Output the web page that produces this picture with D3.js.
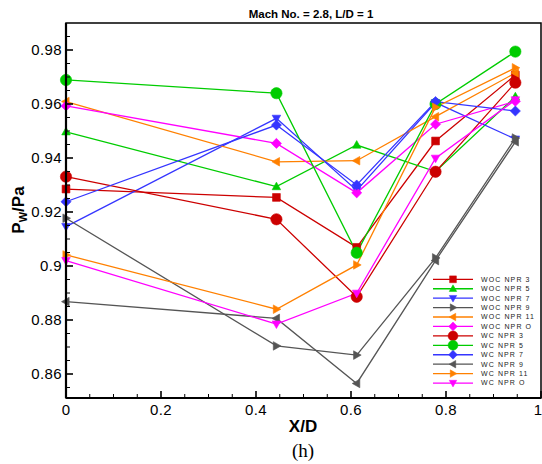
<!DOCTYPE html>
<html><head><meta charset="utf-8">
<script src="https://cdn.jsdelivr.net/npm/d3@7/dist/d3.min.js"></script>
<style>body{margin:0;background:#fff}svg{display:block}</style>
</head><body>
<svg id="c" width="542" height="464"></svg>
<script>
const xPos = [0, 0.443, 0.612, 0.778, 0.946];
const seriesNames = ["WOC NPR 3","WOC NPR 5","WOC NPR 7","WOC NPR 9","WOC NPR 11","WOC NPR O",
                     "WC NPR 3","WC NPR 5","WC NPR 7","WC NPR 9","WC NPR 11","WC NPR O"];
const WOC_NPR_3  = [0.9285, 0.9254, 0.9069, 0.9463, 0.9707];
const WOC_NPR_5  = [0.9497, 0.9294, 0.9448, 0.9350, 0.9627];
const WOC_NPR_7  = [0.9146, 0.9547, 0.9280, 0.9605, 0.9470];
const WOC_NPR_9  = [0.9177, 0.8704, 0.8670, 0.9030, 0.9474];
const WOC_NPR_11 = [0.9609, 0.9386, 0.9390, 0.9553, 0.9715];
const WOC_NPR_O  = [0.9593, 0.9454, 0.9271, 0.9525, 0.9610];
const WC_NPR_3   = [0.9331, 0.9173, 0.8886, 0.9349, 0.9679];
const WC_NPR_5   = [0.9689, 0.9640, 0.9049, 0.9600, 0.9794];
const WC_NPR_7   = [0.9238, 0.9522, 0.9300, 0.9609, 0.9574];
const WC_NPR_9   = [0.8868, 0.8806, 0.8565, 0.9020, 0.9460];
const WC_NPR_11  = [0.9041, 0.8840, 0.9004, 0.9588, 0.9734];
const WC_NPR_O   = [0.9020, 0.8785, 0.8899, 0.9399, 0.9615];
const seriesValues = [WOC_NPR_3, WOC_NPR_5, WOC_NPR_7, WOC_NPR_9, WOC_NPR_11, WOC_NPR_O,
                      WC_NPR_3, WC_NPR_5, WC_NPR_7, WC_NPR_9, WC_NPR_11, WC_NPR_O];
const xTickLabels = ["0","0.2","0.4","0.6","0.8","1"];
const yTickLabels = ["0.86","0.88","0.9","0.92","0.94","0.96","0.98"];

const colors = ["#cc0000","#00cc00","#3535ff","#555555","#ff8000","#ff00ff",
                "#cc0000","#00cc00","#3535ff","#555555","#ff8000","#ff00ff"];
const shapes = ["square","up","down","right","left","diamond",
                "circle","circle","diamond","left","right","down"];

const L = 66, R = 541, T = 23, B = 398;
const x = d3.scaleLinear().domain([0, 1]).range([L, R]);
const y = d3.scaleLinear().domain([0.86, 0.98]).range([374, 50]);

const svg = d3.select("#c");
const font = "'Liberation Sans', Arial, sans-serif";

function markerPath(shape, s) {
  switch (shape) {
    case "square": return `M${-s},${-s}H${s}V${s}H${-s}Z`;
    case "up": return `M0,${-s*1.15}L${s*1.1},${s*0.8}L${-s*1.1},${s*0.8}Z`;
    case "down": return `M0,${s*1.15}L${s*1.1},${-s*0.8}L${-s*1.1},${-s*0.8}Z`;
    case "right": return `M${s*1.15},0L${-s*0.8},${s*1.1}L${-s*0.8},${-s*1.1}Z`;
    case "left": return `M${-s*1.15},0L${s*0.8},${s*1.1}L${s*0.8},${-s*1.1}Z`;
    case "diamond": return `M0,${-s*1.3}L${s*1.3},0L0,${s*1.3}L${-s*1.3},0Z`;
    case "circle": return d3.symbol(d3.symbolCircle, Math.PI*(s*1.45)*(s*1.45))();
  }
}

// series lines + markers
const line = d3.line().x(d => x(d[0])).y(d => y(d[1]));
seriesValues.forEach((vals, i) => {
  const pts = vals.map((v, j) => [xPos[j], v]);
  svg.append("path").attr("d", line(pts)).attr("fill", "none")
    .attr("stroke", colors[i]).attr("stroke-width", 1.3);
});
seriesValues.forEach((vals, i) => {
  const pts = vals.map((v, j) => [xPos[j], v]);
  svg.selectAll(null).data(pts).enter().append("path")
    .attr("transform", d => `translate(${x(d[0])},${y(d[1])})`)
    .attr("d", markerPath(shapes[i], 3.9))
    .attr("fill", colors[i]).attr("stroke", colors[i]).attr("stroke-width", 0.6);
});

// frame
svg.append("rect").attr("x", L).attr("y", T).attr("width", R - L).attr("height", B - T)
  .attr("fill", "none").attr("stroke", "#000").attr("stroke-width", 1.5);
svg.append("line").attr("x1", L).attr("x2", L).attr("y1", T).attr("y2", B)
  .attr("stroke", "#000").attr("stroke-width", 2.2);
svg.append("line").attr("x1", L).attr("x2", R).attr("y1", B).attr("y2", B)
  .attr("stroke", "#000").attr("stroke-width", 2.2);

// y ticks (inside)
const yMin = y.invert(B), yMax = y.invert(T);
d3.range(0, 40).map(k => 0.845 + k * 0.005).filter(v => v >= yMin && v <= yMax).forEach(v => {
  const major = Math.abs(Math.round(v / 0.02) * 0.02 - v) < 1e-6;
  svg.append("line").attr("x1", L).attr("x2", L + (major ? 7 : 4))
    .attr("y1", y(v)).attr("y2", y(v)).attr("stroke", "#000").attr("stroke-width", major ? 1.6 : 1);
});
yTickLabels.forEach(t => {
  svg.append("text").attr("x", 62).attr("y", y(+t)).attr("dy", "0.36em")
    .attr("text-anchor", "end").attr("font-family", font).attr("font-size", 15)
    .attr("letter-spacing", 0.4).text(t);
});
// x ticks (inside)
d3.range(0, 21).map(k => k * 0.05).forEach(v => {
  const major = Math.abs(Math.round(v / 0.2) * 0.2 - v) < 1e-6;
  svg.append("line").attr("x1", x(v)).attr("x2", x(v))
    .attr("y1", B).attr("y2", B - (major ? 7 : 4)).attr("stroke", "#000").attr("stroke-width", major ? 1.6 : 1);
});
xTickLabels.forEach((t, i) => {
  const last = i === xTickLabels.length - 1;
  svg.append("text").attr("x", last ? 542 : x(+t)).attr("y", 415)
    .attr("text-anchor", last ? "end" : "middle").attr("font-family", font).attr("font-size", 15)
    .attr("letter-spacing", last ? 0 : 0.4).text(t);
});

// titles
svg.append("text").attr("x", 311).attr("y", 18).attr("text-anchor", "middle")
  .attr("font-family", font).attr("font-size", 11.5).attr("font-weight", "bold").text("Mach No. = 2.8, L/D = 1");
svg.append("text").attr("x", 303).attr("y", 432).attr("text-anchor", "middle")
  .attr("font-family", font).attr("font-size", 17).attr("font-weight", "bold").text("X/D");
svg.append("text").attr("x", 303).attr("y", 457).attr("text-anchor", "middle")
  .attr("font-family", "'Liberation Serif', 'Times New Roman', serif").attr("font-size", 19).text("(h)");
const yl = svg.append("text").attr("transform", "translate(24,210) rotate(-90)")
  .attr("text-anchor", "middle").attr("font-family", font).attr("font-size", 17).attr("font-weight", "bold");
yl.append("tspan").text("P");
yl.append("tspan").attr("font-size", 11).attr("dy", 3).text("W");
yl.append("tspan").attr("dy", -3).text("/Pa");

// legend
const legY0 = 279.3, legDy = 9.43;
seriesNames.forEach((name, i) => {
  const ly = legY0 + i * legDy;
  svg.append("line").attr("x1", 433).attr("x2", 473).attr("y1", ly).attr("y2", ly)
    .attr("stroke", colors[i]).attr("stroke-width", 1.3);
  svg.append("path").attr("transform", `translate(453,${ly})`).attr("d", markerPath(shapes[i], 3.4))
    .attr("fill", colors[i]).attr("stroke", colors[i]).attr("stroke-width", 0.5);
  svg.append("text").attr("x", 481).attr("y", ly).attr("dy", "0.35em")
    .attr("font-family", font).attr("font-size", 7).attr("letter-spacing", 1.1)
    .attr("fill", "#222").text(name);
});
</script>
</body></html>
